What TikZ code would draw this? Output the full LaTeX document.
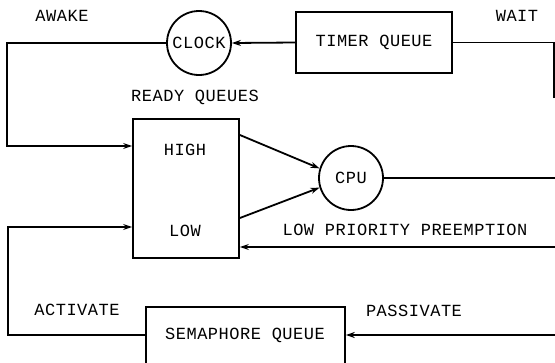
\documentclass[tikz,border=0pt]{standalone}
\usepackage{fontspec}
\setmonofont[LetterSpace=3]{Liberation Mono}
\usetikzlibrary{arrows.meta,calc,positioning}

\tikzset{
  qbox/.style={draw,line width=1.8pt,inner sep=0pt},
  proc/.style={draw,circle,line width=1.8pt,minimum size=64pt,inner sep=0pt},
  flow/.style={line width=1.8pt},
}

\begin{document}
\begin{tikzpicture}[>={Stealth[length=9pt,width=6pt]},x=1pt,y=-1pt,
    font=\ttfamily\fontsize{17}{17}\selectfont]
  \useasboundingbox (0,0) rectangle (555,362);
  \clip (0,0) rectangle (555,362);
  % queues and servers
  \node[proc] (clock) at (199,43) {CLOCK};
  \node[qbox,minimum width=156pt,minimum height=61pt] (timer) at (374,42.5) {TIMER QUEUE};
  \node[qbox,minimum width=106pt,minimum height=139pt] (ready) at (186,188.5) {};
  \node (high) at (185,150) {HIGH};
  \node (low) at (185,231) {LOW};
  \node[proc] (cpu) at (351,178) {CPU};
  \node[qbox,minimum width=199pt,minimum height=80pt,anchor=north west] (sema) at (145,306) {};
  \node (semaname) at (245,335) {SEMAPHORE QUEUE};
  % labels
  \node (awake) at (62,16) {AWAKE};
  \node (wait) at (517,16) {WAIT};
  \node (readylbl) at (195,97) {READY QUEUES};
  \node (preemptlbl) at (405,230) {LOW PRIORITY PREEMPTION};
  \node (activate) at (77,310) {ACTIVATE};
  \node (passivate) at (414,311) {PASSIVATE};
  % open ends on the right
  \coordinate (waitin) at (554,98);
  \coordinate (cpuout) at (556,178);
  \coordinate (preempt) at (556,247);
  \coordinate (passin) at (556,335);
  % flows
  \draw[flow] (waitin) |- (timer.east);
  \draw[flow,->] (timer.west) -- (clock.east);
  \draw[flow,->] (clock.west) -- ++(-159,0) |- ([yshift=42.5pt]ready.west);
  \draw[flow,->] ([yshift=53.5pt]ready.east) -- (cpu.163);
  \draw[flow,->] ([yshift=-29.5pt]ready.east) -- (cpu.197);
  \draw[flow] (cpu.east) -- (cpuout);
  \draw[flow,->] (preempt) -- (ready.east |- preempt);
  \draw[flow,->] (passin) -- (sema.east |- passin);
  \draw[flow,->] (sema.west |- semaname) -- ++(-137,0) |- ([yshift=-38.5pt]ready.west);
\end{tikzpicture}
\end{document}
